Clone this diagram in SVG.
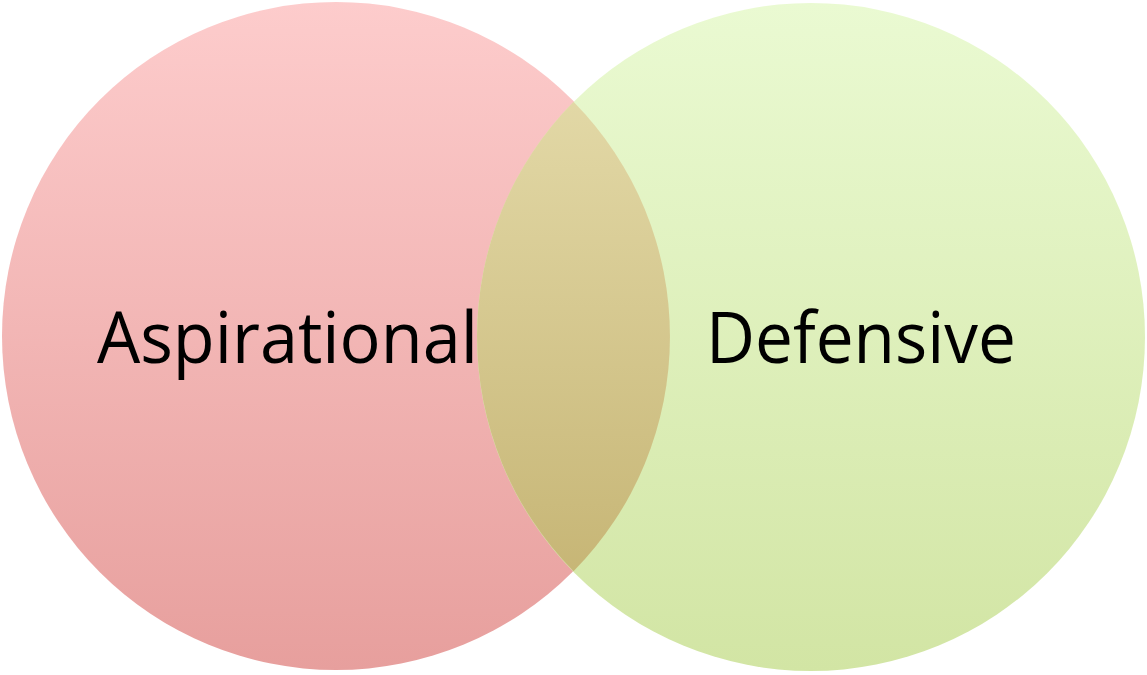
<svg xmlns="http://www.w3.org/2000/svg" width="1147" height="675" viewBox="0 0 1147 675">
<defs>
<linearGradient id="gPink" x1="0" y1="0" x2="0" y2="1">
<stop offset="0" stop-color="#fdcccc"/>
<stop offset="1" stop-color="#e79f9d"/>
</linearGradient>
<linearGradient id="gGreen" x1="0" y1="0" x2="0" y2="1">
<stop offset="0" stop-color="#eafad2"/>
<stop offset="1" stop-color="#d2e5a4"/>
</linearGradient>
<linearGradient id="gMix" gradientUnits="userSpaceOnUse" x1="0" y1="101" x2="0" y2="572">
<stop offset="0" stop-color="#e2d8a6"/>
<stop offset="1" stop-color="#c7b676"/>
</linearGradient>
<style>
.lbl{font-family:"Open Sans","Noto Sans","Liberation Sans",sans-serif;font-size:71px;fill:#000;}
</style>
</defs>
<rect width="1147" height="675" fill="#ffffff"/>
<g id="aspirational">
<circle cx="336" cy="336" r="334" fill="url(#gPink)"/>
</g>
<g id="defensive">
<circle cx="811" cy="337" r="334" fill="url(#gGreen)"/>
</g>
<g id="overlap">
<path d="M573.5,101.7 A334,334 0 0 1 573.5,571.3 A334,334 0 0 1 573.5,101.7 Z" fill="url(#gMix)"/>
</g>
<g id="labels">
<text class="lbl" x="97" y="363" textLength="381" lengthAdjust="spacingAndGlyphs">Aspirational</text>
<text class="lbl" x="706" y="363" textLength="310" lengthAdjust="spacingAndGlyphs">Defensive</text>
</g>
<g id="connectors"></g>
</svg>
